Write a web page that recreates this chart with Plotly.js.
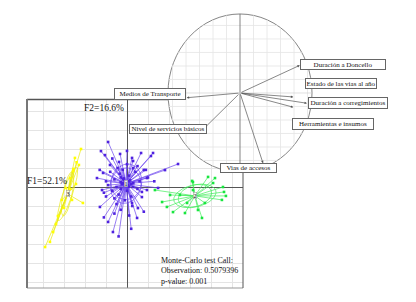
<!DOCTYPE html>
<html><head><meta charset="utf-8">
<script src="https://cdn.plot.ly/plotly-3.0.1.min.js"></script>
<style>html,body{margin:0;padding:0;background:#fff}#c{width:416px;height:302px}</style>
</head><body><div id="c"></div>
<script>
// ---- data ----
const groupNames = ['1', '2', '3'];
const g1x = [-0.90,-1.24,-1.05,-0.33,-0.38,0.24,0.29,0.67,1.14,1.24,-1.14,-0.81,-1.43,-1.19,-1.29,-0.90,-0.67,0.48,0.52,0.24,0.71,0.95,2.43,1.81,0.95,1.48,0.71,
  -1.0,-0.6,0.1,-0.3,0.9,0.5,-0.7,0.0,1.3,-1.3,
  -0.3,0.1,0.3,-0.5,0.0,-0.2,0.4,-0.6,0.2,-0.4,0.6,-0.1,0.05,-0.25,0.15,-0.35,0.5,-0.7,0.3,-0.1,0.0,-0.8,0.8,-0.5,0.25,-1.0,1.0,-0.15,0.1,-0.05,
  -0.9,-0.6,-0.45,-1.1,-0.3,-0.4,0.2,-1.1,0.8,
  -0.2,0.1,-0.1,0.2,-0.3,0.0,0.3,-0.2];
const g1y = [2.37,1.89,1.68,1.74,1.32,1.53,1.37,1.79,1.63,1.79,0.74,1.16,0.47,-0.16,-1.05,-1.84,-2.37,-1.63,-1.11,-0.84,-0.53,-0.16,1.21,0.89,0.47,-0.05,-0.26,
  -0.5,-1.4,-1.5,-1.2,0.9,1.1,1.5,1.9,0.3,0.9,
  0.5,0.6,0.2,0.0,-0.2,0.9,0.8,0.4,-0.5,-0.4,0.3,0.3,0.1,0.15,0.35,0.7,-0.1,-0.2,1.0,-0.7,1.2,0.8,0.9,-0.9,-1.0,0.3,0.5,0.45,0.0,0.25,
  0.1,-0.6,1.0,-0.3,-0.1,-2.6,-2.2,-1.6,-1.3,
  0.2,0.3,0.1,0.15,0.25,0.05,0.0,0.4];
const g2x = [3.14,3.86,4.57,4.62,4.71,4.52,1.33,1.67,1.90,2.19,3.38,3.57,3.14,4.10,3.71,2.86,3.10,2.52,2.76,4.19,2.05];
const g2y = [0.26,0.53,0.00,-0.26,-0.47,-0.68,-0.16,-0.79,-1.05,-1.32,-1.21,-1.63,-0.16,0.21,-0.84,-0.84,0.32,-0.42,-1.37,0.47,-0.42];
const g3x = [-2.19,-2.48,-2.29,-2.57,-2.71,-2.43,-2.90,-2.10,-2.62,-3.10,-3.00,-3.29,-3.38,-3.52,-3.67,-3.90,-2.81,-2.40,-2.55,-2.80,-2.70];
const g3y = [2.00,1.53,1.16,0.84,0.47,0.16,-0.05,-0.84,-0.68,-0.68,-1.10,-1.53,-1.95,-2.37,-2.89,-3.16,-0.26,1.30,0.95,-0.40,-0.10];

const varNames = ['Duración a Doncello','Estado de las vias al año','Duración a corregimientos','Herramientas e insumos','Medios de Transporte','Nivel de servicios básicos','Vias de accesos'];
const varF1 = [0.83, 0.74, 0.93, 0.74, -0.74, -0.49, 0.32];
const varF2 = [0.35, -0.05, -0.13, -0.18, -0.06, -0.44, -0.89];

const axisLabels = ['F1=52.1%', 'F2=16.6%'];
const testLines = ['Monte-Carlo test Call:', 'Observation: 0.5079396', 'p-value: 0.001'];

// ---- layout helpers ----
const W = 416, H = 302;
const px = x => x / W, py = y => 1 - y / H;
const serif = "'Liberation Serif', 'Times New Roman', serif";

const groups = [
  {x: g1x, y: g1y, pt: '#4f22e0', ln: '#6b45ee', name: groupNames[0]},
  {x: g2x, y: g2y, pt: '#18e63f', ln: '#40ec5a', name: groupNames[1]},
  {x: g3x, y: g3y, pt: '#ffff00', ln: '#eaea10', name: groupNames[2]}
];

const traces = [];
const annotations = [];
groups.forEach(g => {
  const n = g.x.length;
  const mx = g.x.reduce((a, b) => a + b, 0) / n;
  const my = g.y.reduce((a, b) => a + b, 0) / n;
  let sxx = 0, syy = 0, sxy = 0;
  for (let i = 0; i < n; i++) {
    sxx += (g.x[i] - mx) ** 2; syy += (g.y[i] - my) ** 2; sxy += (g.x[i] - mx) * (g.y[i] - my);
  }
  sxx /= n; syy /= n; sxy /= n;
  const sx = [], sy = [];
  for (let i = 0; i < n; i++) { sx.push(g.x[i], mx, null); sy.push(g.y[i], my, null); }
  traces.push({x: sx, y: sy, mode: 'lines', line: {color: g.ln, width: 0.7}, hoverinfo: 'skip', showlegend: false});
  const th = 0.5 * Math.atan2(2 * sxy, sxx - syy);
  const m = (sxx + syy) / 2, d = Math.sqrt(((sxx - syy) / 2) ** 2 + sxy ** 2);
  [1.0, 0.8].forEach((kf, j) => {
    const a = Math.sqrt(m + d) * kf, b = Math.sqrt(Math.max(m - d, 0)) * kf * (j ? 1.2 : 1);
    const ex = [], ey = [];
    for (let k = 0; k <= 80; k++) {
      const t = 2 * Math.PI * k / 80;
      const tt = th + (j ? 0.12 : 0);
      ex.push(mx + a * Math.cos(t) * Math.cos(tt) - b * Math.sin(t) * Math.sin(tt));
      ey.push(my + a * Math.cos(t) * Math.sin(tt) + b * Math.sin(t) * Math.cos(tt));
    }
    traces.push({x: ex, y: ey, mode: 'lines', line: {color: g.ln, width: 0.7}, hoverinfo: 'skip', showlegend: false});
  });
  traces.push({x: g.x, y: g.y, mode: 'markers', marker: {color: g.pt, size: 2.6, symbol: 'square'}, hoverinfo: 'skip', showlegend: false});
  annotations.push({x: mx, y: my, xref: 'x', yref: 'y', text: g.name, showarrow: false, xanchor: 'center', yanchor: 'middle',
    font: {family: serif, size: 6, color: '#000'}, bgcolor: 'rgba(255,255,255,0.85)', bordercolor: '#999', borderwidth: 0.5, borderpad: 0});
});

// ---- shapes ----
const shapes = [];
shapes.push({type: 'line', xref: 'paper', yref: 'paper', x0: px(27), x1: px(243), y0: py(288), y1: py(288), line: {color: '#999', width: 1}, layer: 'above'});
shapes.push({type: 'line', xref: 'paper', yref: 'paper', x0: px(243), x1: px(243), y0: py(99), y1: py(288), line: {color: '#555', width: 1}, layer: 'above'});
shapes.push({type: 'line', xref: 'paper', yref: 'paper', x0: px(27), x1: px(243), y0: py(99.5), y1: py(99.5), line: {color: '#555', width: 1.5}, layer: 'above'});
shapes.push({type: 'line', xref: 'paper', yref: 'paper', x0: px(27), x1: px(27), y0: py(99), y1: py(288), line: {color: '#777', width: 2}, layer: 'above'});
shapes.push({type: 'circle', xref: 'x2', yref: 'y2', x0: -1, x1: 1, y0: -1, y1: 1, fillcolor: '#fff', line: {color: '#777', width: 0.9}, layer: 'above'});
const gxs = 13.5 / 72, gys = 13.5 / 79;
for (let k = -6; k <= 6; k++) {
  if (k === 0) continue;
  const gx = k * gxs;
  if (Math.abs(gx) < 1) {
    const h = Math.sqrt(1 - gx * gx);
    shapes.push({type: 'line', xref: 'x2', yref: 'y2', x0: gx, x1: gx, y0: -h, y1: h, line: {color: '#e4e4e4', width: 0.8}, layer: 'above'});
  }
  const gy = k * gys;
  if (Math.abs(gy) < 1) {
    const h = Math.sqrt(1 - gy * gy);
    shapes.push({type: 'line', xref: 'x2', yref: 'y2', x0: -h, x1: h, y0: gy, y1: gy, line: {color: '#e4e4e4', width: 0.8}, layer: 'above'});
  }
}
shapes.push({type: 'line', xref: 'x2', yref: 'y2', x0: 0, x1: 0, y0: -1, y1: 1, line: {color: '#666', width: 0.8}, layer: 'above'});
shapes.push({type: 'line', xref: 'x2', yref: 'y2', x0: -1, x1: 1, y0: 0, y1: 0, line: {color: '#ccc', width: 0.6}, layer: 'above'});

varNames.forEach((v, i) => {
  annotations.push({x: varF1[i], y: varF2[i], xref: 'x2', yref: 'y2', ax: 0, ay: 0, axref: 'x2', ayref: 'y2',
    text: '', showarrow: true, arrowhead: 2, arrowsize: 0.7, arrowwidth: 0.7, arrowcolor: '#555'});
});
const boxes = [[343, 64.5, 86, 11], [341, 83.5, 72, 11], [348, 103, 80, 12], [333, 124, 82, 12], [150, 93.5, 72, 12], [168, 128.5, 78, 10], [248.5, 168, 57, 10]];
varNames.forEach((v, i) => {
  const b = boxes[i];
  annotations.push({x: px(b[0]), y: py(b[1]), xref: 'paper', yref: 'paper', text: v, showarrow: false,
    width: b[2] - 2, height: b[3] - 2, borderpad: 0, bgcolor: '#fff', bordercolor: '#666', borderwidth: 1,
    font: {family: serif, size: 7, color: '#111'}, xanchor: 'center', yanchor: 'middle'});
});

annotations.push({x: px(47), y: py(181), xref: 'paper', yref: 'paper', text: axisLabels[0], showarrow: false,
  xanchor: 'center', yanchor: 'middle', font: {family: serif, size: 9.5, color: '#111'}});
annotations.push({x: px(104), y: py(108), xref: 'paper', yref: 'paper', text: axisLabels[1], showarrow: false,
  xanchor: 'center', yanchor: 'middle', font: {family: serif, size: 9.5, color: '#111'}});
annotations.push({x: px(159), y: py(271), xref: 'paper', yref: 'paper', text: testLines.join('<br>'), showarrow: false,
  align: 'left', xanchor: 'left', yanchor: 'middle', font: {family: serif, size: 8, color: '#111'}});

const layout = {
  width: W, height: H, margin: {l: 0, r: 0, t: 0, b: 0}, paper_bgcolor: '#fff', plot_bgcolor: 'rgba(0,0,0,0)',
  showlegend: false,
  xaxis: {domain: [px(27), px(243)], range: [(27 - 127) / 21, (243 - 127) / 21], dtick: 1, tick0: 0,
    showgrid: true, gridcolor: '#e4e4e4', gridwidth: 1, zeroline: true, zerolinecolor: '#555', zerolinewidth: 1,
    showticklabels: false, ticks: '', showline: false, fixedrange: true},
  yaxis: {domain: [py(288), py(99)], range: [(187 - 288) / 19, (187 - 99) / 19], dtick: 1, tick0: 0,
    showgrid: true, gridcolor: '#e4e4e4', gridwidth: 1, zeroline: true, zerolinecolor: '#555', zerolinewidth: 1,
    showticklabels: false, ticks: '', showline: false, fixedrange: true},
  xaxis2: {domain: [px(150), px(330)], range: [-1.25, 1.25], anchor: 'y2', visible: false, fixedrange: true},
  yaxis2: {domain: [py(187), 1], range: [-1.19, 1.177], anchor: 'x2', visible: false, fixedrange: true},
  shapes: shapes, annotations: annotations
};
traces.push({x: [0], y: [0], xaxis: 'x2', yaxis: 'y2', mode: 'markers', marker: {size: 1, color: 'rgba(0,0,0,0)'}, hoverinfo: 'skip'});
Plotly.newPlot('c', traces, layout, {staticPlot: true, displayModeBar: false});
</script></body></html>
